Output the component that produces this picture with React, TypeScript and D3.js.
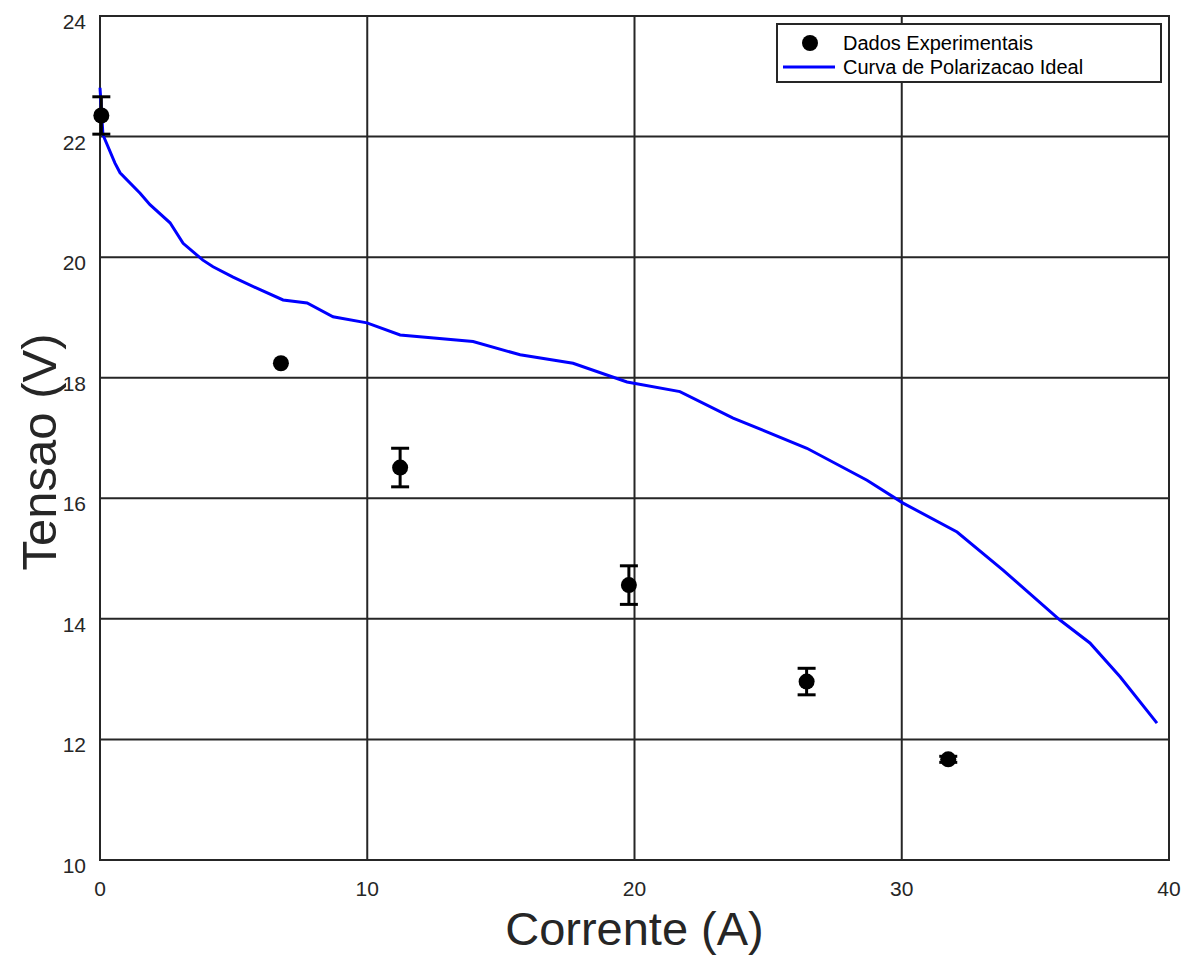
import { useEffect, useRef } from "react";
import * as d3 from "d3";

// experimental points (current A, voltage V, error V)
const expCurrent = [0.05, 6.77, 11.23, 19.79, 26.44, 31.74];
const expVoltage = [22.35, 18.24, 16.51, 14.56, 12.96, 11.67];
const expError = [0.31, 0, 0.32, 0.32, 0.22, 0.05];

// ideal polarization curve
const curveCurrent = [
  0, 0.06, 0.11, 0.56, 0.75, 1.5, 1.87, 2.62, 3.11, 3.85, 4.23, 4.98, 5.99,
  6.85, 7.75, 8.72, 9.99, 11.23, 13.96, 15.72, 17.7, 19.72, 21.7, 23.69,
  26.45, 28.7, 30.05, 32.07, 33.79, 35.92, 37.04, 38.17, 39.55,
];
const curveVoltage = [
  22.81, 22.39, 22.03, 21.56, 21.4, 21.06, 20.87, 20.57, 20.23, 19.95, 19.84,
  19.67, 19.46, 19.29, 19.24, 19.01, 18.91, 18.71, 18.6, 18.38, 18.24, 17.93,
  17.77, 17.33, 16.83, 16.3, 15.92, 15.44, 14.81, 13.98, 13.6, 13.04, 12.27,
];

const xTicks = [0, 10, 20, 30, 40];
const yTicks = [10, 12, 14, 16, 18, 20, 22, 24];
const legendLabels = ["Dados Experimentais", "Curva de Polarizacao Ideal"];

const WIDTH = 1194;
const HEIGHT = 956;
const FONT = "'Liberation Sans', Arial, sans-serif";

export default function App() {
  const ref = useRef<SVGSVGElement>(null);

  useEffect(() => {
    const svg = d3.select(ref.current);
    svg.selectAll("*").remove();

    const x = d3.scaleLinear().domain([0, 40]).range([100, 1169]);
    const y = d3.scaleLinear().domain([10, 24]).range([860, 16]);
    const gridColor = "#262626";

    svg.append("rect").attr("width", WIDTH).attr("height", HEIGHT).attr("fill", "#fff");

    // grid
    svg
      .append("g")
      .selectAll("line")
      .data(xTicks.slice(1, -1))
      .join("line")
      .attr("x1", (d) => x(d))
      .attr("x2", (d) => x(d))
      .attr("y1", y(10))
      .attr("y2", y(24))
      .attr("stroke", gridColor)
      .attr("stroke-width", 2);
    svg
      .append("g")
      .selectAll("line")
      .data(yTicks.slice(1, -1))
      .join("line")
      .attr("x1", x(0))
      .attr("x2", x(40))
      .attr("y1", (d) => y(d))
      .attr("y2", (d) => y(d))
      .attr("stroke", gridColor)
      .attr("stroke-width", 2);

    // box
    svg
      .append("rect")
      .attr("x", x(0))
      .attr("y", y(24))
      .attr("width", x(40) - x(0))
      .attr("height", y(10) - y(24))
      .attr("fill", "none")
      .attr("stroke", gridColor)
      .attr("stroke-width", 2);

    // tick labels
    svg
      .append("g")
      .selectAll("text")
      .data(yTicks)
      .join("text")
      .attr("x", x(0) - 14)
      .attr("y", (d) => y(d) + 13)
      .attr("text-anchor", "end")
      .attr("font-family", FONT)
      .attr("font-size", 21)
      .attr("fill", "#262626")
      .text((d) => d);
    svg
      .append("g")
      .selectAll("text")
      .data(xTicks)
      .join("text")
      .attr("x", (d) => x(d))
      .attr("y", y(10) + 36)
      .attr("text-anchor", "middle")
      .attr("font-family", FONT)
      .attr("font-size", 21)
      .attr("fill", "#262626")
      .text((d) => d);

    // axis titles
    svg
      .append("text")
      .attr("x", x(20))
      .attr("y", 945)
      .attr("text-anchor", "middle")
      .attr("font-family", FONT)
      .attr("font-size", 47)
      .attr("fill", "#262626")
      .text("Corrente (A)");
    svg
      .append("text")
      .attr("transform", `translate(56,${(y(10) + y(24)) / 2 + 14}) rotate(-90)`)
      .attr("text-anchor", "middle")
      .attr("font-family", FONT)
      .attr("font-size", 49)
      .attr("fill", "#262626")
      .text("Tensao (V)");

    // ideal curve
    const line = d3
      .line<number>()
      .x((d, i) => x(curveCurrent[i]))
      .y((d) => y(d));
    svg
      .append("path")
      .datum(curveVoltage)
      .attr("d", line)
      .attr("fill", "none")
      .attr("stroke", "#0000ff")
      .attr("stroke-width", 3);

    // experimental data with error bars (skip bars when error is zero)
    const pts = expCurrent.map((c, i) => ({ c, v: expVoltage[i], e: expError[i] }));
    const g = svg.append("g").selectAll("g").data(pts).join("g");
    const withErr = g.filter((d) => d.e > 0);
    withErr
      .append("line")
      .attr("x1", (d) => x(d.c))
      .attr("x2", (d) => x(d.c))
      .attr("y1", (d) => y(d.v + d.e))
      .attr("y2", (d) => y(d.v - d.e))
      .attr("stroke", "#000")
      .attr("stroke-width", 3);
    [1, -1].forEach((s) => {
      withErr
        .append("line")
        .attr("x1", (d) => x(d.c) - 9)
        .attr("x2", (d) => x(d.c) + 9)
        .attr("y1", (d) => y(d.v + s * d.e))
        .attr("y2", (d) => y(d.v + s * d.e))
        .attr("stroke", "#000")
        .attr("stroke-width", 3);
    });
    g.append("circle")
      .attr("cx", (d) => x(d.c))
      .attr("cy", (d) => y(d.v))
      .attr("r", 8)
      .attr("fill", "#000");

    // legend
    const lg = svg.append("g");
    lg.append("rect")
      .attr("x", 777)
      .attr("y", 24)
      .attr("width", 384)
      .attr("height", 58)
      .attr("fill", "#fff")
      .attr("stroke", gridColor)
      .attr("stroke-width", 2);
    lg.append("circle").attr("cx", 810).attr("cy", 43).attr("r", 8).attr("fill", "#000");
    lg.append("line")
      .attr("x1", 783)
      .attr("x2", 835)
      .attr("y1", 67)
      .attr("y2", 67)
      .attr("stroke", "#0000ff")
      .attr("stroke-width", 3);
    lg.selectAll("text")
      .data(legendLabels)
      .join("text")
      .attr("x", 843)
      .attr("y", (d, i) => 50 + i * 24)
      .attr("font-family", FONT)
      .attr("font-size", 20)
      .attr("fill", "#000")
      .text((d) => d);
  }, []);

  return (
    <svg
      ref={ref}
      width={WIDTH}
      height={HEIGHT}
      style={{ position: "absolute", left: 0, top: 0, display: "block" }}
    />
  );
}
